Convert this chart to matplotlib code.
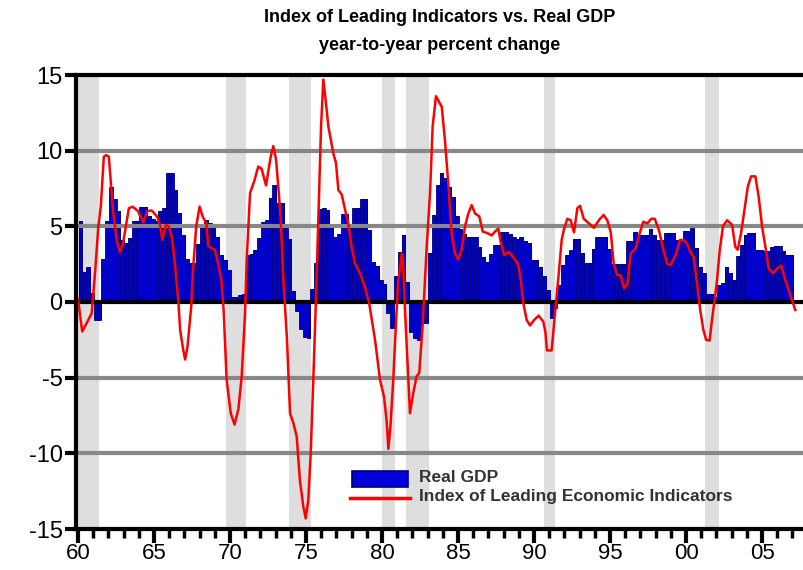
import matplotlib
matplotlib.use("Agg")
import matplotlib.pyplot as plt
import numpy as np
from matplotlib.patches import Rectangle
from matplotlib.lines import Line2D

plt.rcParams['font.family'] = ['Liberation Sans', 'DejaVu Sans']
plt.rcParams['axes.unicode_minus'] = False

# Real GDP, year-to-year % change, quarterly from 1960 Q1
gdp = [5.35, 2.0, 2.3, 0.6, -1.2, -1.2, 2.85, 5.35, 7.6, 6.8,
       6.0, 4.1, 3.9, 4.2, 5.35, 5.35, 6.3, 6.3, 5.7, 5.5,
       5.35, 6.0, 6.2, 8.55, 8.55,
       7.4, 5.9, 4.4, 2.85, 2.55, 2.55,
       3.8, 5.1, 5.4, 5.25, 4.95, 4.3, 3.1, 2.8, 2.1, 0.35,
       0.35, 0.45, 0.5, 3.1, 3.2, 3.45, 4.2, 5.3, 5.45, 6.9,
       7.7, 6.55, 6.55, 4.9, 4.15, 0.7, -0.6, -1.8, -2.3, -2.4,
       0.85, 2.6, 6.15, 6.2, 6.1, 4.9, 4.3, 4.5, 5.8, 5.8,
       5.0, 6.2, 6.2, 6.8, 6.8, 4.75, 2.65, 2.4, 1.45, 1.2,
       -0.75, -1.75, 1.7, 3.3, 4.4, 1.3, -2.0, -2.4, -2.5, -1.4,
       -1.4,
       3.25, 5.75, 7.7, 8.55, 8.2, 7.6, 6.95, 5.65, 4.8, 4.5,
       4.3, 4.3, 4.3, 3.65, 3.0, 2.65, 3.15, 3.75, 3.75, 4.6,
       4.6, 4.5, 4.3, 4.15, 4.3, 4.0, 3.9, 2.8, 2.8, 2.3,
       1.7, 0.8, -1.05, -0.4, 1.1, 2.45, 3.1, 3.45, 4.15, 4.15,
       3.25, 2.6, 2.55, 3.5, 4.3, 4.3, 4.3, 3.5, 2.5, 2.5,
       2.5, 2.5, 4.0, 4.0, 4.6, 4.4, 4.4, 4.4, 4.8, 4.4,
       4.1, 4.1, 4.55, 4.55, 4.55, 4.1, 4.1, 4.7, 4.7, 4.95,
       3.6, 2.3, 1.9, 0.5, 0.5, 0.35, 1.1, 1.25, 2.3, 1.9,
       1.45, 3.05, 3.75, 4.4, 4.55, 4.55, 3.45, 3.45, 3.35, 3.35,
       3.65, 3.7, 3.7, 3.35, 3.1, 3.1]

# Index of Leading Economic Indicators, year-to-year % change
lei_year = [1960.0, 1960.28, 1960.57, 1960.9, 1961.12, 1961.34, 1961.5, 1961.7, 1961.85, 1962.03,
            1962.2, 1962.3, 1962.55, 1962.75, 1962.95, 1963.15, 1963.35, 1963.6, 1963.95, 1964.3,
            1964.55, 1964.85, 1965.2, 1965.42, 1965.55, 1965.78, 1965.98, 1966.17, 1966.38, 1966.6,
            1966.72, 1966.93, 1967.05, 1967.2, 1967.45, 1967.58, 1967.78, 1968.0, 1968.22, 1968.45,
            1968.57, 1968.8, 1969.0, 1969.22, 1969.43, 1969.58, 1969.78, 1970.05, 1970.3, 1970.55,
            1970.77, 1970.99, 1971.1, 1971.32, 1971.6, 1971.86, 1972.08, 1972.37, 1972.52, 1972.68,
            1972.85, 1973.03, 1973.18, 1973.34, 1973.5, 1973.75, 1973.95, 1974.17, 1974.39, 1974.6,
            1974.82, 1974.98, 1975.15, 1975.31, 1975.48, 1975.66, 1975.78, 1975.86, 1975.99, 1976.14,
            1976.32, 1976.47, 1976.58, 1976.8, 1976.97, 1977.13, 1977.35, 1977.57, 1977.78, 1978.0,
            1978.22, 1978.55, 1978.88, 1979.16, 1979.54, 1979.87, 1980.13, 1980.3, 1980.42, 1980.57,
            1980.74, 1980.92, 1981.07, 1981.14, 1981.3, 1981.4, 1981.51, 1981.63, 1981.84, 1982.06,
            1982.28, 1982.45, 1982.68, 1982.83, 1982.94, 1983.16, 1983.33, 1983.55, 1983.77, 1983.93,
            1984.14, 1984.36, 1984.58, 1984.8, 1985.02, 1985.24, 1985.46, 1985.68, 1985.9, 1986.12,
            1986.4, 1986.63, 1986.93, 1987.22, 1987.43, 1987.65, 1987.8, 1988.03, 1988.31, 1988.53,
            1988.75, 1988.97, 1989.13, 1989.3, 1989.52, 1989.74, 1990.0, 1990.3, 1990.61, 1990.75,
            1990.85, 1991.16, 1991.38, 1991.6, 1991.82, 1991.97, 1992.19, 1992.41, 1992.63, 1992.85,
            1993.03, 1993.27, 1993.6, 1993.95, 1994.3, 1994.58, 1994.82, 1995.05, 1995.24, 1995.46,
            1995.7, 1995.93, 1996.15, 1996.36, 1996.69, 1996.91, 1997.19, 1997.46, 1997.72, 1997.94,
            1998.22, 1998.51, 1998.77, 1998.99, 1999.32, 1999.6, 1999.82, 2000.07, 2000.28, 2000.5,
            2000.72, 2000.93, 2001.13, 2001.32, 2001.55, 2001.73, 2001.9, 2002.04, 2002.22, 2002.43,
            2002.7, 2003.03, 2003.24, 2003.4, 2003.62, 2003.84, 2004.06, 2004.28, 2004.56, 2004.78,
            2005.0, 2005.22, 2005.44, 2005.72, 2005.99, 2006.27, 2006.53, 2006.86, 2007.19]
lei_val = [0.2, -1.95, -1.4, -0.75, 1.9, 5.0, 6.3, 9.6, 9.7, 9.6,
           7.4, 6.1, 4.1, 3.3, 3.8, 5.0, 6.2, 6.3, 6.0, 5.25,
           6.0, 6.05, 5.65, 5.0, 4.1, 5.1, 5.0, 4.3, 2.5, 0.1,
           -1.85, -3.2, -3.8, -3.0, -0.3, 2.3, 5.0, 6.3, 5.6, 5.2,
           3.7, 3.55, 3.45, 2.55, 1.45, -0.5, -5.15, -7.35, -8.1, -7.1,
           -4.9, -0.75, 2.8, 7.2, 8.0, 8.95, 8.8, 7.7, 8.6, 9.6,
           10.3, 9.4, 7.6, 5.4, 1.7, -2.5, -7.35, -8.0, -8.9, -11.8,
           -13.5, -14.3, -13.1, -10.0, -5.15, 0.35, 4.5, 7.2, 11.6, 14.7,
           13.1, 11.6, 11.0, 9.8, 9.2, 7.4, 7.1, 6.1, 5.2, 3.65,
           2.55, 1.9, 1.0, -0.1, -2.5, -5.15, -6.25, -7.8, -9.7, -8.0,
           -5.15, -1.4, 1.45, 1.9, 3.2, 2.3, -0.5, -2.95, -7.35, -6.0,
           -4.9, -4.7, -1.4, 1.45, 3.65, 7.2, 11.6, 13.6, 13.2, 12.9,
           10.7, 7.8, 4.55, 3.2, 2.8, 3.45, 5.0, 5.85, 6.4, 5.85,
           5.65, 4.65, 4.55, 4.4, 4.65, 4.85, 4.0, 3.1, 3.3, 3.1,
           2.8, 2.45, 1.45, -0.1, -1.2, -1.55, -1.2, -0.9, -1.3, -2.0,
           -3.2, -3.2, -0.75, 1.6, 4.1, 4.8, 5.5, 5.4, 4.6, 6.2,
           6.35, 5.5, 5.2, 4.9, 5.45, 5.75, 5.4, 4.6, 2.55, 1.8,
           1.75, 0.9, 1.2, 3.2, 3.55, 4.4, 5.3, 5.2, 5.5, 5.5,
           4.75, 3.45, 2.5, 2.45, 3.1, 4.1, 4.1, 3.85, 3.3, 3.0,
           1.25, -0.5, -1.8, -2.5, -2.55, -1.0, 0.3, 1.45, 3.45, 5.0,
           5.4, 5.1, 3.65, 3.45, 4.55, 6.1, 7.6, 8.3, 8.3, 6.95,
           5.0, 3.65, 2.2, 1.9, 2.2, 2.4, 1.45, 0.45, -0.53]

recessions = [(1959.8, 1961.4), (1969.72, 1971.05), (1973.85, 1975.3), (1980.0, 1980.85),
              (1981.55, 1983.1), (1990.65, 1991.35), (2001.25, 2002.15)]

tick_years = [1960, 1965, 1970, 1975, 1980, 1985, 1990, 1995, 2000, 2005]
tick_labels = ['60', '65', '70', '75', '80', '85', '90', '95', '00', '05']

W, H = 804, 570
fig = plt.figure(figsize=(W / 100, H / 100), dpi=100)
ax = fig.add_axes([75.7 / W, 41 / H, (W - 75.7) / W, 454 / H])

for a, b in recessions:
    ax.axvspan(a, b, color='#dedede', lw=0, zorder=0.5)

quarters = 1960 + np.arange(len(gdp)) * 0.25
ax.bar(quarters + 0.09, gdp, width=0.25, align='edge', color='#000022', lw=0, zorder=1.9)
ax.bar(quarters + 0.04, gdp, width=0.25, align='edge', color='#0000cc',
       edgecolor='#00007a', lw=0.6, zorder=2)

for yv in [-10, -5, 5, 10]:
    ax.axhline(yv, color='#888888', lw=3, zorder=3)
ax.axhline(0, color='black', lw=3, zorder=3)

ax.plot(lei_year, lei_val, color='#ff0000', lw=1.8, zorder=4, solid_joinstyle='round')

ax.set_xlim(1959.85, 2007.76)
ax.set_ylim(-15, 15)
ax.set_yticks([-15, -10, -5, 0, 5, 10, 15])
ax.set_xticks(tick_years)
ax.set_xticklabels(tick_labels)
ax.set_xticks(np.arange(1960, 2008), minor=True)
ax.tick_params(axis='y', direction='out', length=8, width=3, labelsize=17, pad=1.5)
ax.tick_params(axis='x', which='major', direction='out', length=10, width=3, labelsize=16, pad=0)
ax.tick_params(axis='x', which='minor', direction='out', length=6.5, width=2.5)

for side in ['left', 'bottom', 'top']:
    ax.spines[side].set_linewidth(3)
    ax.spines[side].set_zorder(5)
ax.spines['right'].set_visible(False)

# title
fig.text(440 / W, 1 - 18 / H, 'Index of Leading Indicators vs. Real GDP', ha='center', va='center',
         fontsize=13, fontweight='bold')
fig.text(440 / W, 1 - 45 / H, 'year-to-year percent change', ha='center', va='center',
         fontsize=13, fontweight='bold')

# legend
fig.add_artist(Rectangle((352 / W, 1 - 487 / H), 56 / W, 16 / H, transform=fig.transFigure,
                         facecolor='#0000dd', edgecolor='#000070', lw=1.2))
fig.add_artist(Line2D([350 / W, 410 / W], [1 - 498 / H, 1 - 498 / H], transform=fig.transFigure,
                      color='#ff0000', lw=2.5))
fig.text(419 / W, 1 - 478 / H, 'Real GDP', ha='left', va='center', fontsize=12.5,
         fontweight='bold', color='#333333')
fig.text(419 / W, 1 - 497 / H, 'Index of Leading Economic Indicators', ha='left', va='center',
         fontsize=12.5, fontweight='bold', color='#333333')

fig.savefig('out.png', dpi=100)
